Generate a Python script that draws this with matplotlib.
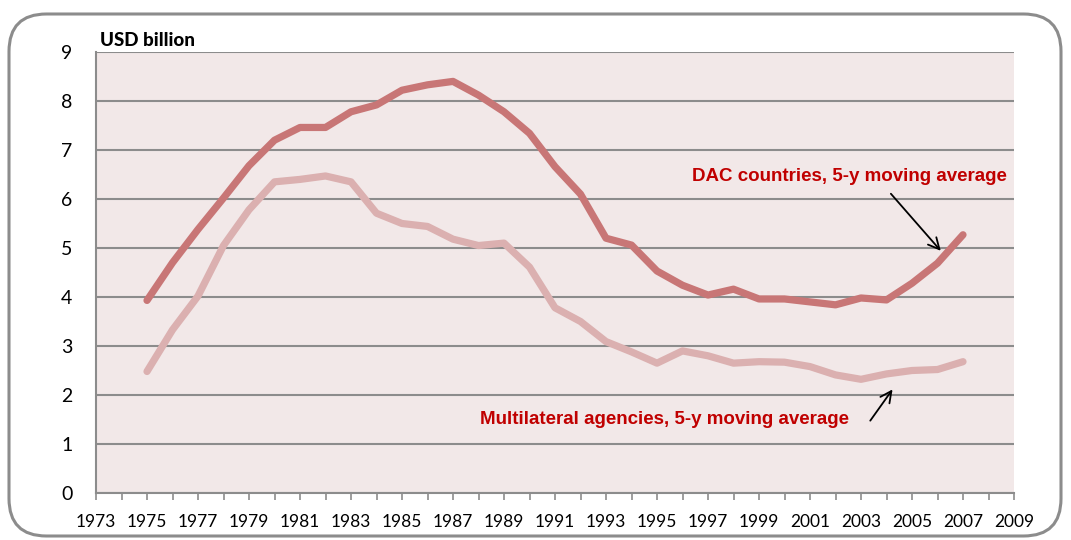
import matplotlib
matplotlib.use("Agg")
import matplotlib.pyplot as plt
from matplotlib.patches import FancyBboxPatch

# 5-y moving averages, USD billion
years = list(range(1975, 2008))
dac = [3.93, 4.70, 5.38, 6.02, 6.68, 7.20, 7.46, 7.46, 7.78, 7.92, 8.22, 8.33, 8.40,
       8.12, 7.78, 7.34, 6.66, 6.10, 5.20, 5.06, 4.53, 4.24, 4.04, 4.16, 3.96, 3.96,
       3.90, 3.84, 3.98, 3.94, 4.28, 4.69, 5.27]
multi = [2.48, 3.33, 4.02, 5.05, 5.78, 6.35, 6.40, 6.47, 6.35, 5.71, 5.50, 5.44, 5.18,
         5.05, 5.10, 4.61, 3.78, 3.50, 3.09, 2.88, 2.65, 2.90, 2.80, 2.65, 2.68, 2.67,
         2.58, 2.41, 2.32, 2.43, 2.50, 2.52, 2.68]
xlabels = list(range(1973, 2010, 2))

fig = plt.figure(figsize=(10.71, 5.40), dpi=100)
frame = FancyBboxPatch((9 / 1071, 4 / 540), 1052 / 1071, 522 / 540,
                       boxstyle="round,pad=0,rounding_size=0.035",
                       transform=fig.transFigure, facecolor="white",
                       edgecolor="#8c8c8c", linewidth=2.2,
                       mutation_aspect=1071 / 540, zorder=-1)
fig.patches.append(frame)

ax = fig.add_axes([96 / 1071, 47 / 540, 918 / 1071, 441 / 540])
ax.set_facecolor("#f2e8e8")
ax.set_xlim(1973, 2009)
ax.set_ylim(0, 9)

ax.plot(years, multi, color="#dbb0b0", linewidth=5.2, solid_capstyle="round", zorder=3)
ax.plot(years, dac, color="#c87676", linewidth=5.2, solid_capstyle="round", zorder=4)

ax.set_yticks(range(0, 10))
ax.set_xticks(xlabels)
ax.set_xticks(range(1973, 2010), minor=True)
ax.grid(axis="y", color="#8c8c8c", linewidth=1.5)
ax.set_axisbelow(True)
for s in ["top", "right"]:
    ax.spines[s].set_visible(False)
for s in ["left", "bottom"]:
    ax.spines[s].set_color("#8c8c8c")
    ax.spines[s].set_linewidth(1.5)
ax.tick_params(axis="y", length=0, pad=17, labelsize=14)
ax.tick_params(axis="x", which="both", length=5, width=1.2, color="#8c8c8c",
               labelsize=12.5, pad=10)
for lab in ax.get_xticklabels() + ax.get_yticklabels():
    lab.set_fontfamily("Lato")

fig.text(100 / 1071, 1 - 40 / 540, "USD billion", fontsize=13.5, fontweight="black",
         family="Lato", va="center", ha="left")

red = "#c00000"
ax.text(2002.55, 6.45, "DAC countries, 5-y moving average", color=red, fontsize=13.5,
        fontweight="bold", family="Liberation Sans", ha="center", va="center")
ax.text(1995.3, 1.49, "Multilateral agencies, 5-y moving average", color=red,
        fontsize=13.5, fontweight="bold", family="Liberation Sans", ha="center",
        va="center")
ax.annotate("", xy=(2006.2, 4.9), xytext=(2004.1, 6.15),
            arrowprops=dict(arrowstyle="->", color="black", lw=1.3, mutation_scale=20))
ax.annotate("", xy=(2004.3, 2.16), xytext=(2003.3, 1.43),
            arrowprops=dict(arrowstyle="->", color="black", lw=1.3, mutation_scale=20))

fig.savefig("out.png", dpi=100)
